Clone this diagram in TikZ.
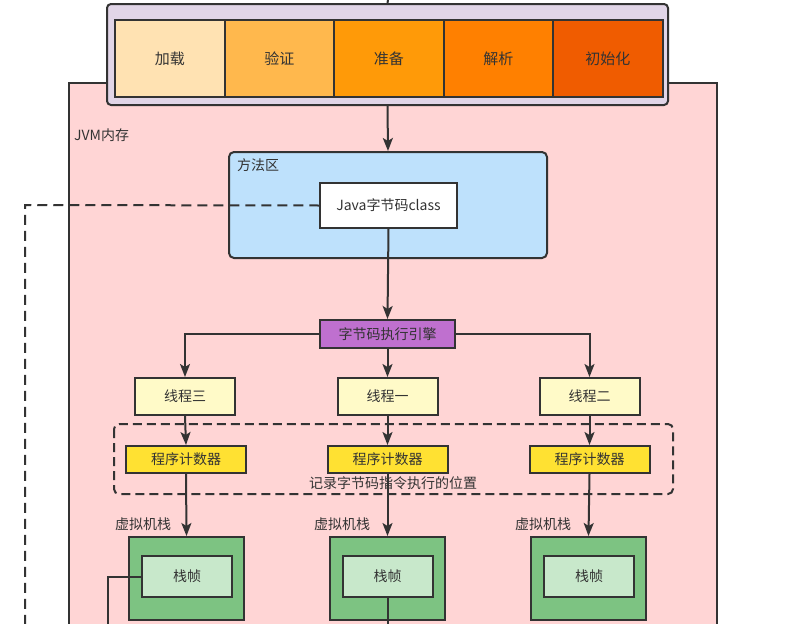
\documentclass[tikz,border=0pt]{standalone}
\usepackage{fontspec}
\setmainfont{Noto Sans CJK SC}
\usetikzlibrary{arrows.meta,positioning}
\definecolor{ink}{RGB}{51,51,51}
\definecolor{lilac}{RGB}{225,213,231}
\definecolor{stA}{RGB}{255,226,178}
\definecolor{stB}{RGB}{255,184,77}
\definecolor{stC}{RGB}{255,154,8}
\definecolor{stD}{RGB}{255,128,0}
\definecolor{stE}{RGB}{240,92,0}
\definecolor{mem}{RGB}{255,213,213}
\definecolor{area}{RGB}{190,225,252}
\definecolor{engine}{RGB}{191,112,207}
\definecolor{thread}{RGB}{255,250,200}
\definecolor{counter}{RGB}{255,225,50}
\definecolor{stack}{RGB}{125,195,130}
\definecolor{frame}{RGB}{200,232,203}
\tikzset{
  box/.style={draw=ink, line width=2pt, text=ink, font=\fontsize{14}{16}\selectfont,
              inner sep=0pt, align=center},
  phase/.style={box, font=\fontsize{15}{17}\selectfont, minimum width=109.5pt, minimum height=77pt},
  thr/.style={box, fill=thread, minimum width=100pt, minimum height=37pt},
  pc/.style={box, fill=counter, minimum width=120pt, minimum height=27pt},
  vms/.style={box, fill=stack, minimum width=115pt, minimum height=83pt},
  frm/.style={box, fill=frame, minimum width=90pt, minimum height=41pt},
  tag/.style={text=ink, font=\fontsize{14}{16}\selectfont, inner sep=0pt},
  flow/.style={-{Stealth[length=13pt,width=10pt,inset=3pt]}, ink, line width=2pt},
  wire/.style={ink, line width=2pt},
}
\begin{document}
\begin{tikzpicture}[x=1pt,y=-1pt]
        \useasboundingbox[fill=white] (0,0) rectangle (788,624);
        % JVM memory
        \fill[mem] (69,83) rectangle (717,624);
        \draw[wire] (69,624) -- (69,83) -- (717,83) -- (717,624);
        \node[tag,anchor=west] (jvm) at (74,135) {JVM内存};
        % class loading phases
        \node[box,fill=lilac,rounded corners=4pt,minimum width=561pt,minimum height=101pt] (load) at (387.5,54.5) {};
        \node[phase,fill=stA] (p1) at (169.75,58.5) {加载};
        \node[phase,fill=stB] (p2) at (279.25,58.5) {验证};
        \node[phase,fill=stC] (p3) at (388.75,58.5) {准备};
        \node[phase,fill=stD] (p4) at (498.25,58.5) {解析};
        \node[phase,fill=stE] (p5) at (607.75,58.5) {初始化};
        \coordinate (top) at (388,0);
        \draw[wire] (top) -- (load.north);
        % method area
        \node[box,fill=area,rounded corners=5pt,minimum width=318pt,minimum height=106pt] (meth) at (388,205) {};
        \node[tag,anchor=north west] (methlbl) at (237,158) {方法区};
        \node[box,fill=white,line width=1.5pt,minimum width=137pt,minimum height=45pt] (cls) at (388.5,205.5) {Java字节码class};
        \draw[flow] (load.south) -- (meth.north);
        \coordinate (bend) at (25,205);
        \coordinate (low) at (25,624);
        \draw[wire,dash pattern=on 10pt off 6pt] (cls.west) -- (bend) -- (low);
        % execution engine and threads
        \node[box,fill=engine,minimum width=135pt,minimum height=28pt] (eng) at (387.5,334) {字节码执行引擎};
        \draw[flow] (cls.south) -- (eng.north);
        \node[thr] (t3) at (185,396.5) {线程三};
        \node[thr] (t1) at (387.5,396.5) {线程一};
        \node[thr] (t2) at (589.5,396.5) {线程二};
        \draw[flow] (eng.west) -| (t3.north);
        \draw[flow] (eng.south) -- (t1.north);
        \draw[flow] (eng.east) -| (t2.north);
        % program counters
        \draw[wire,dash pattern=on 9pt off 5pt,rounded corners=5pt] (114,424) rectangle (673,494);
        \node[tag] (note) at (393,483) {记录字节码指令执行的位置};
        \node[pc] (c3) at (186,459.5) {程序计数器};
        \node[pc] (c1) at (387.5,459.5) {程序计数器};
        \node[pc] (c2) at (589.5,459.5) {程序计数器};
        \draw[flow] (t3.south) -- (c3.north);
        \draw[flow] (t1.south) -- (c1.north);
        \draw[flow] (t2.south) -- (c2.north);
        % VM stacks
        \node[tag,anchor=west] (l3) at (115,524) {虚拟机栈};
        \node[tag,anchor=west] (l1) at (314,524) {虚拟机栈};
        \node[tag,anchor=west] (l2) at (515,524) {虚拟机栈};
        \node[vms] (s3) at (186.5,578.5) {};
        \node[vms] (s1) at (387.5,578.5) {};
        \node[vms] (s2) at (588.5,578.5) {};
        \node[frm] (f3) at (187,576.5) {栈帧};
        \node[frm] (f1) at (387.5,576.5) {栈帧};
        \node[frm] (f2) at (589,576.5) {栈帧};
        \draw[flow] (c3.south) -- (s3.north);
        \draw[flow] (c1.south) -- (s1.north);
        \draw[flow] (c2.south) -- (s2.north);
        \coordinate (out3) at (108,624);
        \coordinate (out1) at (387.5,624);
        \draw[wire] (f3.west) -| (out3);
        \draw[wire] (f1.south) -- (out1);
      \end{tikzpicture}
\end{document}
